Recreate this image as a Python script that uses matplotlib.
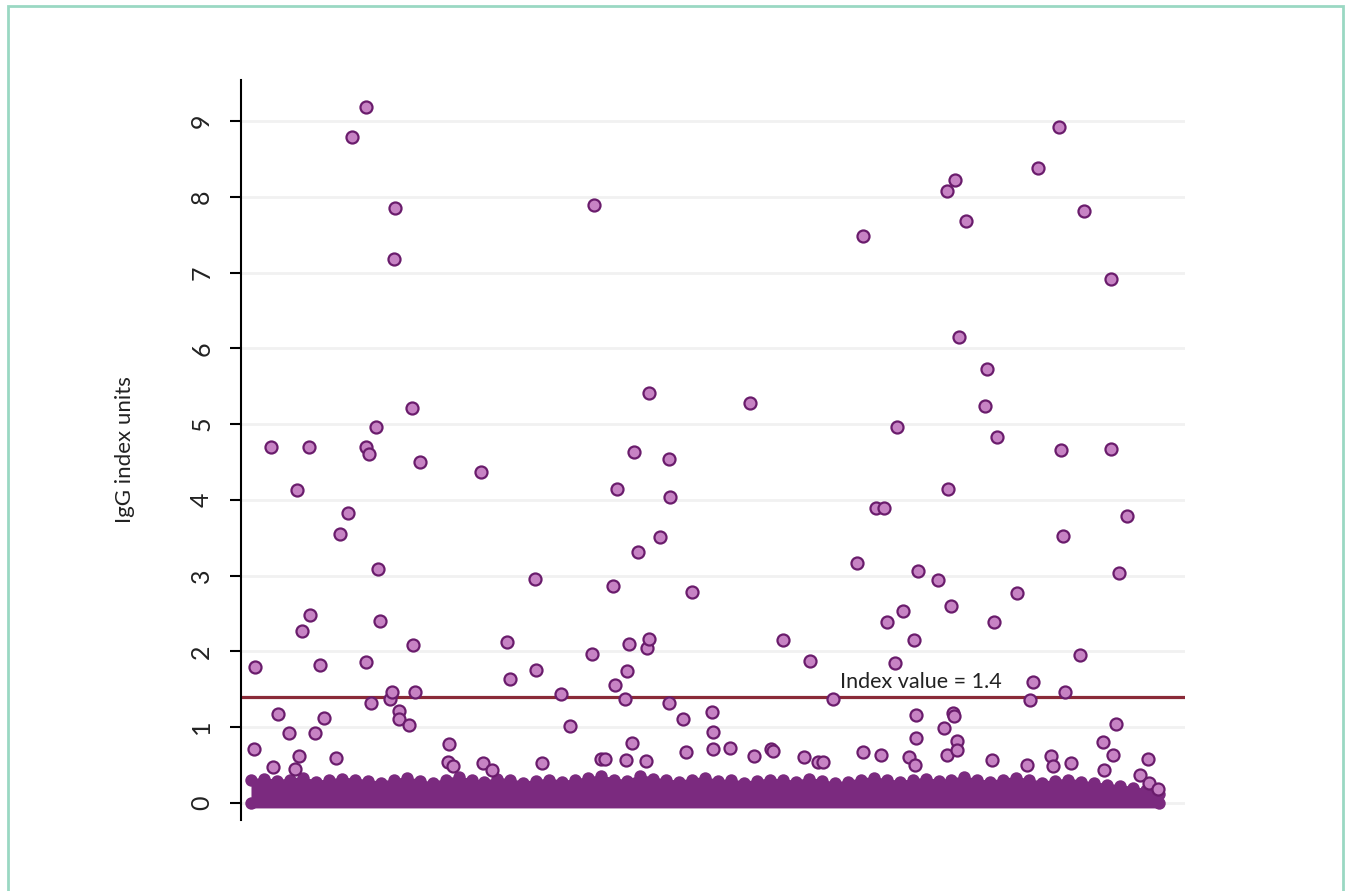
import numpy as np
import matplotlib
matplotlib.use("Agg")
import matplotlib.pyplot as plt
from matplotlib.patches import Rectangle

plt.rcParams['font.family'] = ['Lato', 'DejaVu Sans']

# outlying samples: sample index, IgG index value
out_idx = [13, 14, 30, 32, 37, 48, 54, 56, 58, 61, 68, 69, 74, 79, 83, 95, 99, 107, 111, 125,
           125, 125, 128, 130, 135, 137, 139, 149, 151, 153, 154, 158, 158, 168, 171, 172, 174, 179, 208, 207,
           212, 240, 242, 251, 266, 269, 294, 295, 301, 320, 329, 351, 353, 360, 364, 372, 374, 376, 384, 385,
           386, 388, 391, 393, 397, 405, 406, 408, 408, 419, 428, 429, 428, 442, 445, 451, 471, 472, 472, 489,
           509, 513, 530, 532, 542, 563, 569, 577, 582, 592, 616, 622, 622, 635, 640, 643, 646, 654, 656, 662,
           668, 673, 674, 675, 675, 677, 697, 703, 706, 706, 707, 710, 712, 713, 714, 716, 716, 718, 725, 744,
           746, 751, 753, 756, 776, 786, 789, 792, 797, 810, 812, 818, 820, 822, 824, 830, 839, 843, 862, 863,
           870, 870, 872, 875, 878, 886, 899, 907, 908, 917]
out_val = [0.71, 1.79, 4.70, 0.47, 1.17, 0.92, 0.45, 4.13, 0.62, 2.27, 4.70, 2.48, 0.92, 1.82, 1.12, 0.59, 3.55, 3.83, 8.79, 9.18,
           1.86, 4.70, 4.60, 1.32, 4.96, 3.09, 2.40, 1.37, 1.46, 7.18, 7.85, 1.21, 1.11, 1.03, 5.21, 2.08, 1.46, 4.50, 0.78, 0.54,
           0.49, 4.37, 0.53, 0.44, 2.12, 1.63, 2.95, 1.75, 0.53, 1.44, 1.02, 1.97, 7.89, 0.58, 0.58, 2.86, 1.56, 4.14, 1.37, 0.57,
           1.74, 2.10, 0.79, 4.63, 3.31, 0.55, 2.04, 2.16, 5.41, 3.51, 4.54, 4.04, 1.32, 1.11, 0.67, 2.78, 1.20, 0.94, 0.71, 0.73,
           5.28, 0.62, 0.71, 0.69, 2.15, 0.61, 1.88, 0.54, 0.54, 1.37, 3.17, 7.48, 0.67, 3.89, 0.63, 3.89, 2.39, 1.85, 4.96, 2.53,
           0.61, 2.15, 0.50, 1.16, 0.86, 3.06, 2.94, 0.99, 8.07, 0.63, 4.14, 2.60, 1.19, 1.15, 8.22, 0.82, 0.70, 6.15, 7.68, 5.24,
           5.73, 0.57, 2.39, 4.83, 2.77, 0.50, 1.36, 1.60, 8.38, 0.62, 0.49, 8.92, 4.66, 3.52, 1.46, 0.53, 1.95, 7.81, 0.80, 0.44,
           6.91, 4.67, 0.63, 1.04, 3.03, 3.79, 0.37, 0.58, 0.26, 0.18]

# top of the dense band of low values, read along the samples
band_top = [0.30, 0.32, 0.29, 0.31, 0.33, 0.28, 0.30, 0.32, 0.31, 0.29,
            0.27, 0.30, 0.33, 0.29, 0.26, 0.31, 0.34, 0.30, 0.28, 0.32,
            0.30, 0.27, 0.29, 0.31, 0.28, 0.30, 0.33, 0.35, 0.31, 0.29,
            0.36, 0.32, 0.30, 0.28, 0.31, 0.33, 0.29, 0.30, 0.27, 0.29,
            0.31, 0.30, 0.28, 0.32, 0.29, 0.26, 0.28, 0.31, 0.33, 0.30,
            0.28, 0.30, 0.32, 0.29, 0.31, 0.34, 0.30, 0.28, 0.31, 0.33,
            0.30, 0.27, 0.29, 0.31, 0.28, 0.26, 0.24, 0.22, 0.20, 0.17, 0.12]
band_idx = np.linspace(10, 918, len(band_top))

cutoff = 1.4
yticks = list(range(10))

band_col = "#7b2a7f"
fill_col = "#c783c4"
edge_col = "#6a1c6c"

fig = plt.figure(figsize=(13.5, 8.91), dpi=100)
ax = fig.add_axes([0.1785, 0.0797, 0.6993, 0.8305])

for y in yticks:
    ax.axhline(y, color="#f1f1f1", lw=2, zorder=0)

# dense band of overlapping low-value points
ax.fill_between(band_idx, -0.065, np.array(band_top) + 0.02, color=band_col, lw=0, zorder=1)
ax.scatter(band_idx, band_top, s=80, color=band_col, lw=0, zorder=1)
ax.scatter([band_idx[0], band_idx[-1]], [0, 0], s=80, color=band_col, lw=0, zorder=1)

ax.axhline(cutoff, color="#8a2a38", lw=2.3, zorder=2)
ax.text(599, 1.47, "Index value = " + str(cutoff), fontsize=15.5, color="#222222",
        ha="left", va="bottom", zorder=4)

ax.scatter(out_idx, out_val, s=75, color=fill_col, edgecolors=edge_col, linewidths=1.6, zorder=3)

ax.set_xlim(0, 944)
ax.set_ylim(-0.224, 9.54)
ax.set_yticks(yticks)
ax.set_yticklabels([str(t) for t in yticks], rotation=90, va="center", fontsize=18, color="#222222")
ax.tick_params(axis="y", length=8, width=1.5, pad=12)
ax.set_xticks([])
for s in ["top", "right", "bottom"]:
    ax.spines[s].set_visible(False)
ax.spines["left"].set_linewidth(1.5)
ax.set_ylabel("IgG index units", fontsize=16, color="#222222", labelpad=40)

fig.patches.append(Rectangle((8 / 1350, -0.05), 1335 / 1350, 1.05 - 6 / 891, transform=fig.transFigure,
                             fill=False, edgecolor="#9ad8c3", lw=2))

fig.savefig("out.png", dpi=100)
